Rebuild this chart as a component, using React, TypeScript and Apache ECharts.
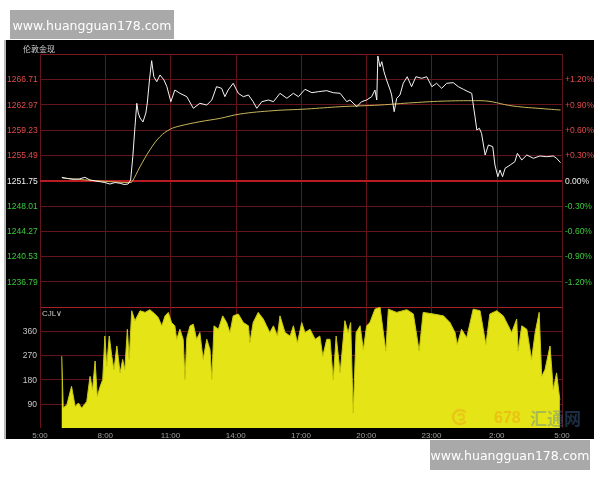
import { useEffect, useRef } from "react";
import * as echarts from "echarts";

const TITLE = "伦敦金现";
const VOL_TITLE = "CJL";
const WATERMARK = "www.huangguan178.com";
const PREV_CLOSE = 1251.75;
const PRICE_STEP = 3.74;
const PCT_STEP = 0.3;

// minutes after 05:00
const priceTimes = [
  60, 75, 91, 108, 124, 138, 152, 166, 179, 193,
  207, 221, 232, 243, 250, 256, 262, 267, 271, 276,
  284, 292, 296, 302, 308, 314, 322, 331, 342, 350,
  361, 372, 386, 405, 423, 441, 460, 474, 487, 501,
  510, 519, 533, 547, 561, 575, 588, 598, 612, 630,
  644, 662, 681, 699, 713, 731, 750, 768, 791, 809,
  828, 846, 855, 874, 887, 901, 915, 924, 929, 932,
  938, 943, 949, 956, 966, 970, 977, 984, 993, 1002,
  1013, 1025, 1037, 1053, 1067, 1081, 1094, 1108, 1122, 1140,
  1154, 1168, 1181, 1191, 1194, 1200, 1205, 1212, 1218, 1228,
  1237, 1249, 1255, 1263, 1269, 1276, 1283, 1297, 1310, 1317,
  1329, 1343, 1361, 1379, 1398, 1416, 1425, 1436,
];
const prices = [
  1252.22, 1252.05, 1251.93, 1251.97, 1252.22, 1251.82, 1251.68, 1251.57, 1251.45, 1251.23,
  1251.45, 1251.34, 1251.16, 1251.23, 1251.82, 1255.27, 1259.7, 1263.16, 1261.73, 1260.99,
  1260.4, 1261.73, 1263.21, 1266.61, 1269.46, 1267.09, 1266.36, 1267.35, 1266.61, 1265.62,
  1263.4, 1265.13, 1264.64, 1264.14, 1262.42, 1263.16, 1262.91, 1263.65, 1265.62, 1265.38,
  1264.14, 1265.13, 1266.12, 1264.64, 1264.14, 1264.39, 1263.4, 1262.42, 1263.4, 1263.65,
  1263.4, 1264.64, 1263.9, 1264.64, 1264.14, 1265.23, 1264.73, 1264.88, 1265.03, 1264.73,
  1264.64, 1263.4, 1263.65, 1262.66, 1263.4, 1263.65, 1264.14, 1265.13, 1263.65, 1270.15,
  1268.57, 1269.31, 1267.83, 1266.61, 1265.13, 1264.39, 1261.92, 1263.9, 1264.39, 1266.12,
  1267.09, 1265.62, 1267.09, 1266.86, 1267.09, 1265.62, 1266.12, 1265.38, 1266.12, 1266.21,
  1265.62, 1265.23, 1264.88, 1264.64, 1263.4, 1261.18, 1259.22, 1259.47, 1258.73, 1255.52,
  1257.0, 1256.75, 1254.04, 1252.31, 1253.3, 1252.31, 1253.55, 1254.04, 1254.53, 1255.77,
  1254.78, 1255.52, 1255.03, 1255.37, 1255.27, 1255.37, 1255.03, 1254.38,
];

const avgTimes = [61, 166, 248, 254, 276, 303, 331, 359, 386, 441, 497, 552, 643, 736, 828, 938, 1029, 1122, 1214, 1305, 1388, 1436];
const avgPrices = [
  1252.12, 1251.68, 1251.45, 1251.57, 1253.79, 1256.26, 1258.22, 1259.32, 1259.81, 1260.44, 1260.94,
  1261.58, 1262.07, 1262.32, 1262.66, 1262.91, 1263.25, 1263.5, 1263.55, 1262.76, 1262.36, 1262.17,
];

const volTimes = [
  60, 64, 74, 87, 97, 106, 115, 129, 138, 145,
  152, 158, 166, 173, 179, 184, 191, 198, 204, 212,
  221, 228, 234, 241, 246, 253, 262, 276, 290, 303,
  317, 326, 336, 345, 354, 363, 372, 377, 386, 395,
  400, 405, 414, 423, 432, 441, 450, 460, 469, 474,
  480, 492, 504, 515, 524, 533, 547, 561, 575, 579,
  588, 602, 616, 625, 634, 644, 655, 662, 676, 690,
  699, 710, 722, 731, 745, 759, 772, 780, 791, 800,
  809, 817, 828, 841, 850, 857, 864, 872, 883, 892,
  901, 910, 924, 938, 954, 961, 984, 1012, 1030, 1046,
  1057, 1085, 1113, 1131, 1145, 1151, 1163, 1177, 1195, 1214,
  1230, 1241, 1260, 1278, 1292, 1301, 1315, 1319, 1329, 1343,
  1356, 1366, 1377, 1384, 1393, 1407, 1416, 1425, 1434,
];
const volumes = [
  267, 75, 86, 155, 80, 93, 74, 99, 192, 143,
  249, 117, 155, 180, 342, 230, 342, 267, 217, 305,
  205, 255, 217, 367, 255, 436, 399, 436, 430, 440,
  424, 411, 380, 417, 430, 392, 380, 330, 367, 330,
  180, 336, 380, 386, 330, 355, 255, 330, 292, 180,
  380, 367, 417, 392, 355, 417, 424, 392, 380, 317,
  392, 430, 405, 380, 355, 380, 342, 417, 355, 342,
  380, 317, 392, 355, 367, 330, 342, 267, 330, 330,
  180, 342, 205, 399, 355, 392, 55, 355, 380, 292,
  380, 392, 442, 449, 286, 442, 430, 440, 424, 286,
  430, 424, 417, 392, 355, 311, 367, 336, 442, 436,
  311, 424, 436, 417, 380, 355, 405, 286, 380, 367,
  255, 355, 430, 192, 217, 305, 143, 205, 105,
];

const xTickLabels = ["5:00", "8:00", "11:00", "14:00", "17:00", "20:00", "23:00", "2:00", "5:00"];
const volTickLabels = ["", "90", "180", "270", "360", ""];

const RED = "#e04a4a";
const GREEN = "#3cc83c";
const GRID_DARK = "#62161b";
const FONT = "'Liberation Sans', Arial, sans-serif";

export default function App() {
  const ref = useRef<HTMLDivElement>(null);
  useEffect(() => {
    const chart = echarts.init(ref.current!, null, { renderer: "svg" });
    const toStep = (p: number) => (p - PREV_CLOSE) / PRICE_STEP;
    const pricePts = priceTimes.map((t, i) => [t, toStep(prices[i])]);
    const avgPts = avgTimes.map((t, i) => [t, toStep(avgPrices[i])]);
    const volPts = volTimes.map((t, i) => [t, volumes[i]]);
    const labelColor = (v: any) => {
      const n = Math.round(Number(v));
      return n > 0 ? RED : n < 0 ? GREEN : "#f0f0f0";
    };
    const priceSplit = [
      "#a82028", GRID_DARK, GRID_DARK, GRID_DARK, GRID_DARK, "#b01c22",
      GRID_DARK, GRID_DARK, GRID_DARK, GRID_DARK, "#7a1a1e",
    ];

    chart.setOption({
      animation: false,
      textStyle: { fontFamily: FONT },
      grid: [
        { left: 40, right: 38, top: 54, height: 253 },
        { left: 40, right: 38, top: 307, height: 121 },
      ],
      xAxis: [
        {
          type: "value", gridIndex: 0, min: 0, max: 1440, interval: 180,
          axisLine: { show: false }, axisTick: { show: false }, axisLabel: { show: false },
          splitLine: { show: true, lineStyle: { color: GRID_DARK, width: 1 } },
        },
        {
          type: "value", gridIndex: 1, min: 0, max: 1440, interval: 180,
          axisLine: { show: false }, axisTick: { show: false },
          axisLabel: {
            show: true, margin: 3, fontSize: 8, color: "#a0a0a0", fontFamily: FONT,
            formatter: (v: number) => xTickLabels[Math.round(v / 180)] ?? "",
          },
          splitLine: { show: true, lineStyle: { color: GRID_DARK, width: 1 } },
        },
      ],
      yAxis: [
        {
          type: "value", gridIndex: 0, min: -5, max: 5, interval: 1, position: "left",
          axisLine: { show: false }, axisTick: { show: false },
          axisLabel: {
            margin: 33, align: "left", fontSize: 8.5, fontFamily: FONT,
            color: labelColor,
            formatter: (v: number) => {
              const n = Math.round(v);
              if (Math.abs(n) >= 5) return "";
              return (PREV_CLOSE + n * PRICE_STEP).toFixed(2);
            },
          },
          splitLine: { show: true, lineStyle: { color: priceSplit, width: 1 } },
        },
        {
          type: "value", gridIndex: 0, min: -5, max: 5, interval: 1, position: "right",
          axisLine: { show: false }, axisTick: { show: false },
          axisLabel: {
            margin: 3, fontSize: 8.5, fontFamily: FONT,
            color: labelColor,
            formatter: (v: number) => {
              const n = Math.round(v);
              if (Math.abs(n) >= 5) return "";
              const s = (Math.abs(n) * PCT_STEP).toFixed(2) + "%";
              return n > 0 ? "+" + s : n < 0 ? "-" + s : s;
            },
          },
          splitLine: { show: false },
        },
        {
          type: "value", gridIndex: 1, min: 0, max: 450, interval: 90, position: "left",
          axisLine: { show: false }, axisTick: { show: false },
          axisLabel: {
            margin: 3, fontSize: 8.5, color: "#c8c8c8", fontFamily: FONT,
            formatter: (v: number) => volTickLabels[Math.round(v / 90)] ?? "",
          },
          splitLine: {
            show: true,
            lineStyle: {
              color: ["rgba(0,0,0,0)", GRID_DARK, GRID_DARK, GRID_DARK, GRID_DARK, "rgba(0,0,0,0)"],
              width: 1,
            },
          },
        },
      ],
      series: [
        {
          type: "line", xAxisIndex: 1, yAxisIndex: 2, data: volPts,
          showSymbol: false, symbol: "none",
          lineStyle: { color: "#c8c814", width: 1 },
          areaStyle: { color: "#e4e416", opacity: 1 },
          z: 2,
        },
        {
          type: "line", xAxisIndex: 0, yAxisIndex: 0, data: avgPts,
          showSymbol: false, symbol: "none", smooth: 0.4,
          lineStyle: { color: "#c8b45a", width: 1 },
          z: 3,
        },
        {
          type: "line", xAxisIndex: 0, yAxisIndex: 0, data: pricePts,
          showSymbol: false, symbol: "none",
          lineStyle: { color: "#f4f4f4", width: 1 },
          markLine: {
            silent: true, symbol: "none", label: { show: false },
            lineStyle: { color: "#b81c22", width: 2, type: "solid" },
            data: [{ yAxis: 0 }],
            z: 1,
          },
          z: 4,
        },
      ],
      graphic: [
        { type: "rect", z: -10, shape: { x: 4, y: 40, width: 590, height: 399 }, style: { fill: "#000" } },
        { type: "rect", z: -9, shape: { x: 4, y: 40, width: 2, height: 399 }, style: { fill: "#b8b8b8" } },
        {
          type: "text", z: 10, x: 23, y: 48,
          style: { text: TITLE, fill: "#d0d0d0", fontSize: 8, fontFamily: "'Noto Sans CJK SC', sans-serif", verticalAlign: "middle" },
        },
        {
          type: "text", z: 10, x: 42, y: 313,
          style: { text: VOL_TITLE + "∨", fill: "#c8c8c8", fontSize: 8, fontFamily: FONT, verticalAlign: "middle" },
        },
        {
          type: "arc", z: 50,
          shape: { cx: 460, cy: 417, r: 7, startAngle: 0.6, endAngle: 5.6 },
          style: { stroke: "#f0a020", lineWidth: 2.5, fill: "none", opacity: 0.45 },
        },
        {
          type: "arc", z: 50,
          shape: { cx: 461, cy: 417, r: 3, startAngle: 3.5, endAngle: 8.5 },
          style: { stroke: "#f0a020", lineWidth: 2, fill: "none", opacity: 0.45 },
        },
        {
          type: "text", z: 50, x: 494, y: 417,
          style: { text: "678", fill: "#f09a10", opacity: 0.45, fontSize: 16, fontWeight: "bold", fontFamily: FONT, verticalAlign: "middle" },
        },
        {
          type: "text", z: 50, x: 530, y: 417,
          style: { text: "汇通网", fill: "#4a78b0", opacity: 0.38, fontSize: 17, fontWeight: "bold", fontFamily: "'Noto Sans CJK SC', sans-serif", verticalAlign: "middle" },
        },
        { type: "rect", z: 100, shape: { x: 10, y: 10, width: 164, height: 29 }, style: { fill: "#a9a9a9" } },
        {
          type: "text", z: 101, x: 92, y: 25,
          style: { text: WATERMARK, fill: "#ffffff", fontSize: 12.5, fontFamily: "'DejaVu Sans', sans-serif", align: "center", verticalAlign: "middle" },
        },
        { type: "rect", z: 100, shape: { x: 430, y: 440, width: 160, height: 30 }, style: { fill: "#a9a9a9" } },
        {
          type: "text", z: 101, x: 510, y: 455,
          style: { text: WATERMARK, fill: "#ffffff", fontSize: 12.5, fontFamily: "'DejaVu Sans', sans-serif", align: "center", verticalAlign: "middle" },
        },
      ],
    });
    return () => chart.dispose();
  }, []);
  return <div ref={ref} style={{ position: "fixed", left: 0, top: 0, width: 600, height: 480 }} />;
}
